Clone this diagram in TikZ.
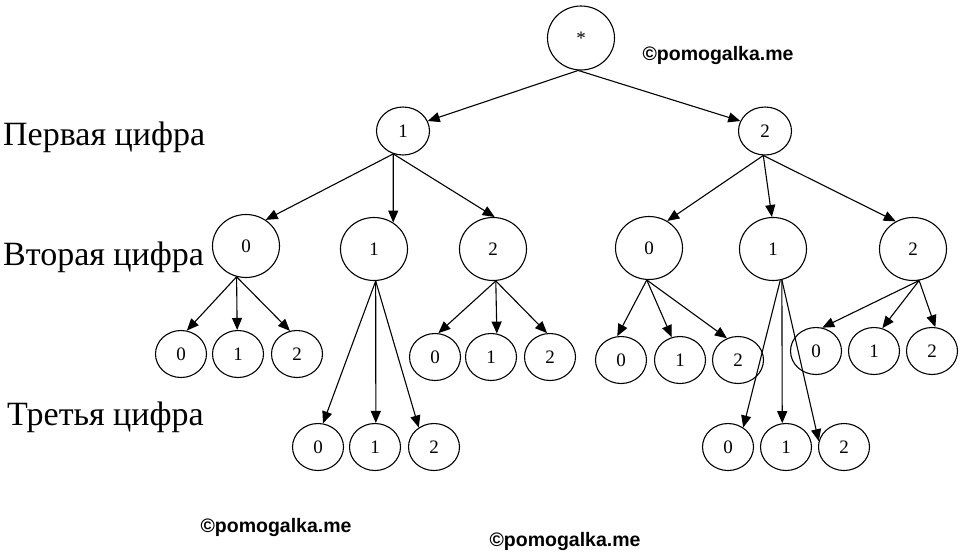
\documentclass[tikz,border=0pt]{standalone}
\usepackage{fontspec}
\setmainfont{Liberation Serif}
\newfontfamily\wmfont{Liberation Sans}
\usetikzlibrary{shapes.geometric,arrows.meta}
\begin{document}
\begin{tikzpicture}[x=1pt,y=-1pt,
  nd/.style={draw, ellipse, inner sep=0pt, line width=1.1pt, font=\fontsize{19}{19}\selectfont},
  lvr/.style={nd, minimum width=67pt, minimum height=64pt},
  lva/.style={nd, minimum width=53pt, minimum height=48pt},
  lvb/.style={nd, minimum width=67pt, minimum height=63pt},
  lvc/.style={nd, minimum width=51pt, minimum height=47pt},
  arr/.style={line width=1.1pt, -{Triangle[length=12pt,width=10pt]}},
  lbl/.style={anchor=base west, inner sep=0pt, font=\fontsize{34}{34}\selectfont},
  wm/.style={inner sep=0pt, font=\wmfont\bfseries\fontsize{19.5}{19.5}\selectfont}]
\useasboundingbox (0,0) rectangle (960,558);
\fill[white] (0,0) rectangle (960,558);

% labels
\node[lbl] (t1) at (3,145) {Первая цифра};
\node[lbl] (t2) at (3,265) {Вторая цифра};
\node[lbl] (t3) at (7,425) {Третья цифра};

% watermarks
\node[wm] (w1) at (718,55) {©pomogalka.me};
\node[wm] (w2) at (276,527) {©pomogalka.me};
\node[wm] (w3) at (565,541) {©pomogalka.me};

% root
\node[lvr] (r) at (581,38) {*};
% level 1
\node[lva] (a) at (403,131) {1};
\node[lva] (b) at (765,131) {2};
% level 2
\node[lvb] (a0) at (246,246) {0};
\node[lvb] (a1) at (374,249) {1};
\node[lvb] (a2) at (493,249) {2};
\node[lvb] (b0) at (649,248) {0};
\node[lvb] (b1) at (773,249) {1};
\node[lvb] (b2) at (913,249) {2};
% level 3
\node[lvc] (a00) at (181,354) {0};
\node[lvc] (a01) at (238,354) {1};
\node[lvc] (a02) at (297,354) {2};
\node[lvc] (a10) at (318,447) {0};
\node[lvc] (a11) at (375,447) {1};
\node[lvc] (a12) at (434,447) {2};
\node[lvc] (a20) at (435,357) {0};
\node[lvc] (a21) at (491,357) {1};
\node[lvc] (a22) at (550,357) {2};
\node[lvc] (b00) at (621,360) {0};
\node[lvc] (b01) at (680,360) {1};
\node[lvc] (b02) at (738,360) {2};
\node[lvc] (b10) at (728,447) {0};
\node[lvc] (b11) at (786,447) {1};
\node[lvc] (b12) at (844,447) {2};
\node[lvc] (b20) at (816,351) {0};
\node[lvc] (b21) at (874,351) {1};
\node[lvc] (b22) at (932,351) {2};

% edges
\draw[arr] (r.-95) -- (a.22);
\draw[arr] (r.-95) -- (b.158);

\draw[arr] (a.-113) -- (a0.53);
\draw[arr] (a.-113) -- (a1.54);
\draw[arr] (a.-113) -- (a2.87);

\draw[arr] (b.-94) -- (b0.56);
\draw[arr] (b.-94) -- (b1.92);
\draw[arr] (b.-94) -- (b2.122);

\draw[arr] (a0.-107) -- (a00.76);
\draw[arr] (a0.-107) -- (a01.92);
\draw[arr] (a0.-107) -- (a02.107);

\draw[arr] (a1.-87) -- (a10.78);
\draw[arr] (a1.-87) -- (a11.88);
\draw[arr] (a1.-87) -- (a12.128);

\draw[arr] (a2.-85) -- (a20.82);
\draw[arr] (a2.-85) -- (a21.76);
\draw[arr] (a2.-85) -- (a22.97);

\draw[arr] (b0.-94) -- (b00.99);
\draw[arr] (b0.-94) -- (b01.110);
\draw[arr] (b0.-94) -- (b02.117);

\draw[arr] (b1.-77) -- (b10.52);
\draw[arr] (b1.-74) -- (b11.99);
\draw[arr] (b1.-74) -- (b12.167);

\draw[arr] (b2.-79) -- (b20.75);
\draw[arr] (b2.-79) -- (b21.70);
\draw[arr] (b2.-79) -- (b22.82);
\end{tikzpicture}
\end{document}
